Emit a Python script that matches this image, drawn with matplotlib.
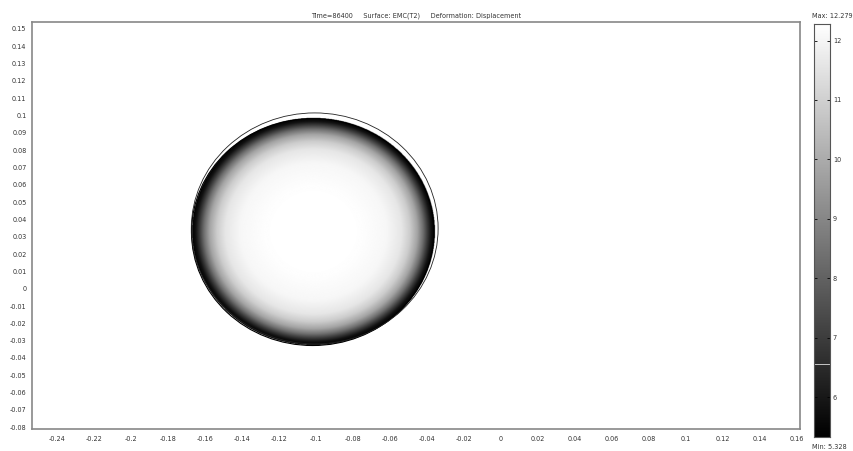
import numpy as np
import matplotlib
matplotlib.use("Agg")
import matplotlib.pyplot as plt
from matplotlib.patches import Circle

# chart text
title = "Time=86400     Surface: EMC(T2)     Deformation: Displacement"
val_min = 5.328
val_max = 12.279

# axis ticks
x_ticks = [-0.24, -0.22, -0.2, -0.18, -0.16, -0.14, -0.12, -0.1, -0.08, -0.06,
           -0.04, -0.02, 0, 0.02, 0.04, 0.06, 0.08, 0.1, 0.12, 0.14, 0.16]
y_ticks = [0.15, 0.14, 0.13, 0.12, 0.11, 0.1, 0.09, 0.08, 0.07, 0.06, 0.05, 0.04,
           0.03, 0.02, 0.01, 0, -0.01, -0.02, -0.03, -0.04, -0.05, -0.06, -0.07, -0.08]
cbar_ticks = [6, 7, 8, 9, 10, 11, 12]

# geometry: undeformed outline and deformed (shaded) disc
outline_center = (-0.1007, 0.0348)
outline_radius = 0.0667
disc_center = (-0.1018, 0.0327)
disc_radius = 0.0655

# EMC value versus depth below the disc surface (read from grey levels)
depth_pts = [0.0, 0.002, 0.004, 0.0065, 0.0095, 0.0135, 0.018, 0.026, 0.04, 0.0655]
emc_pts = [5.33, 5.8, 6.9, 8.4, 9.8, 10.9, 11.6, 12.05, 12.25, 12.279]


def fmt(v):
    s = f"{round(v, 2):g}"
    return "0" if s in ("-0", "0") else s


fig = plt.figure(figsize=(8.54, 4.51), dpi=100)
ax = fig.add_axes([32 / 854, 1 - 429 / 451, (800 - 32) / 854, (429 - 22) / 451])
cax = fig.add_axes([814 / 854, 1 - 437 / 451, 16 / 854, (437 - 24) / 451])

# shaded field
cx, cy = disc_center
gx = np.linspace(cx - disc_radius - 0.001, cx + disc_radius + 0.001, 600)
gy = np.linspace(cy - disc_radius - 0.001, cy + disc_radius + 0.001, 600)
X, Y = np.meshgrid(gx, gy)
depth = disc_radius - np.hypot(X - cx, Y - cy)
field = np.interp(depth, depth_pts, emc_pts)
field = np.ma.masked_where(depth < 0, field)
cmap = plt.get_cmap("gray").copy()
cmap.set_bad(alpha=0)
ax.imshow(field, origin="lower", cmap=cmap, vmin=val_min, vmax=val_max,
          extent=[gx[0], gx[-1], gy[0], gy[-1]], interpolation="bilinear",
          aspect="auto", zorder=2)
ax.add_patch(Circle(disc_center, disc_radius, fill=False, ec="black", lw=0.8, zorder=3))
ax.add_patch(Circle(outline_center, outline_radius, fill=False, ec="#222222", lw=0.6, zorder=3))

ax.set_xlim(-0.2535, 0.1616)
ax.set_ylim(-0.081, 0.154)
ax.set_xticks(x_ticks)
ax.set_xticklabels([fmt(v) for v in x_ticks])
ax.set_yticks(y_ticks)
ax.set_yticklabels([fmt(v) for v in y_ticks])
ax.tick_params(length=0, labelsize=4.7, labelcolor="#333333")
ax.tick_params(axis="x", pad=5)
ax.tick_params(axis="y", pad=4)
for sp in ax.spines.values():
    sp.set_color("#888888")
    sp.set_linewidth(1.2)
ax.set_title(title, fontsize=4.7, color="#333333", pad=3)

# colour bar
levels = np.linspace(val_min, val_max, 256).reshape(-1, 1)
cax.imshow(levels, origin="lower", cmap="gray", vmin=val_min, vmax=val_max,
           extent=[0, 1, val_min, val_max], aspect="auto")
cax.axhline(6.55, color="#dddddd", lw=0.6)
cax.set_xlim(0, 1)
cax.set_ylim(val_min, val_max)
cax.set_xticks([])
cax.set_yticks(cbar_ticks)
cax.set_yticklabels([str(v) for v in cbar_ticks])
cax.yaxis.tick_right()
cax.tick_params(axis="y", direction="in", left=True, right=True, length=2.5,
                width=0.6, labelsize=4.7, labelcolor="#333333", pad=2)
for sp in cax.spines.values():
    sp.set_color("#555555")
    sp.set_linewidth(0.8)

fig.text(812 / 854, 1 - 16 / 451, f"Max: {val_max}", fontsize=4.7, color="#333333",
         ha="left", va="center")
fig.text(812 / 854, 1 - 447 / 451, f"Min: {val_min}", fontsize=4.7, color="#333333",
         ha="left", va="center")

fig.savefig("out.png", dpi=100)
